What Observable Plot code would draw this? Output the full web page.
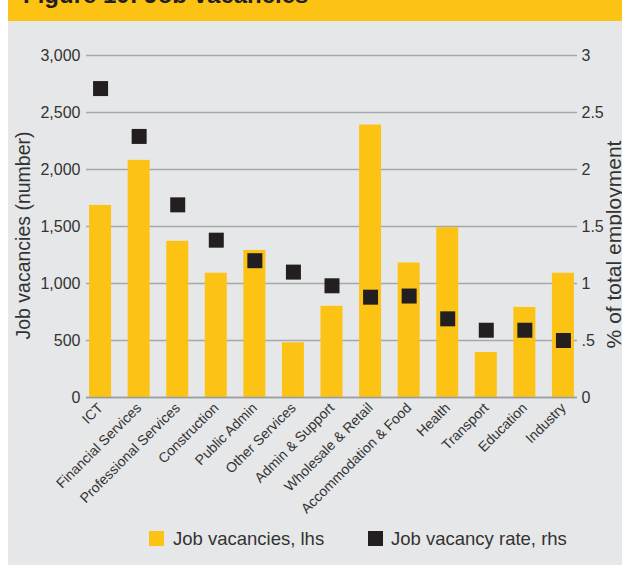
<!DOCTYPE html>
<html>
<head>
<meta charset="utf-8">
<script src="https://cdn.jsdelivr.net/npm/d3@7"></script>
<script src="https://cdn.jsdelivr.net/npm/@observablehq/plot@0.6"></script>
<style>
  html, body { margin: 0; padding: 0; background: #ffffff; }
  #wrap { position: relative; width: 622px; height: 565px; overflow: hidden; font-family: "Liberation Sans", Arial, Helvetica, sans-serif; }
  #panel { position: absolute; left: 8px; top: 0; width: 614px; height: 565px; background: #e6e7e8; }
  #titlebar { position: absolute; left: 8px; top: 0; width: 614px; height: 21px; background: #fdc314; overflow: hidden; }
  #title { position: absolute; left: 15px; top: -17px; font-size: 24px; font-weight: bold; color: #231f20; white-space: nowrap; line-height: 24px; }
  #chart { position: absolute; left: 0; top: 0; }
  #chart svg { background: transparent !important; }
  .sw { position: absolute; width: 15px; height: 15px; }
  .lt { position: absolute; font-size: 18.5px; color: #333; white-space: nowrap; line-height: 18px; }
</style>
</head>
<body>
<div id="wrap">
  <div id="panel"></div>
  <div id="titlebar"><div id="title">Figure 10: Job vacancies</div></div>
  <div id="chart"></div>
  <div class="sw" style="left:149px; top:531px; background:#fdc314;"></div>
  <div class="lt" style="left:173px; top:530px;">Job vacancies, lhs</div>
  <div class="sw" style="left:368px; top:531px; background:#231f20;"></div>
  <div class="lt" style="left:391px; top:530px;">Job vacancy rate, rhs</div>
</div>
<script>
const industries = ["ICT", "Financial Services", "Professional Services", "Construction", "Public Admin", "Other Services", "Admin & Support", "Wholesale & Retail", "Accommodation & Food", "Health", "Transport", "Education", "Industry"];
const vacancies = [1685, 2080, 1370, 1090, 1290, 480, 800, 2390, 1180, 1490, 395, 790, 1090];
const vacancyRate = [2.71, 2.29, 1.69, 1.38, 1.20, 1.10, 0.98, 0.88, 0.89, 0.69, 0.59, 0.59, 0.50];
const leftTicks = [0, 500, 1000, 1500, 2000, 2500, 3000];
const rightTicks = [0, 0.5, 1, 1.5, 2, 2.5, 3];
const rightTickLabels = ["0", ".5", "1", "1.5", "2", "2.5", "3"];
const leftTitle = "Job vacancies (number)";
const rightTitle = "% of total employment";

const YELLOW = "#fdc314";
const DARK = "#231f20";
const GRID = "#a5a7aa";
const TEXT = "#333333";

// rate plotted on the left scale: 1 % of total employment == 1000 on the lhs
const rateScale = 1000;
const data = industries.map((name, i) => ({name, vac: vacancies[i], rate: vacancyRate[i]}));

const chart = Plot.plot({
  width: 622,
  height: 520,
  marginLeft: 86,
  marginRight: 45,
  marginTop: 55,
  marginBottom: 123,
  style: {background: "transparent", fontFamily: "'Liberation Sans', Arial, Helvetica, sans-serif", color: TEXT},
  x: {domain: industries, paddingInner: 0.43, paddingOuter: 0.08, round: false, label: null},
  y: {domain: [0, 3000], label: null},
  marks: [
    Plot.gridY(leftTicks, {stroke: GRID, strokeOpacity: 1, strokeWidth: 1.4}),
    Plot.barY(data, {x: "name", y: "vac", fill: YELLOW}),
    Plot.ruleY([0], {stroke: "#9a9c9f", strokeWidth: 1.4}),
    Plot.dot(data, {x: "name", y: d => d.rate * rateScale, symbol: "square", r: Math.sqrt(225 / Math.PI), fill: DARK, stroke: null}),
    Plot.axisY(leftTicks, {anchor: "left", tickSize: 0, tickPadding: 6, fontSize: 16, tickFormat: d3.format(","), label: null, fill: TEXT}),
    Plot.axisY(rightTicks.map(v => v * rateScale), {anchor: "right", tickSize: 0, tickPadding: 4, fontSize: 16, tickFormat: (d, i) => rightTickLabels[i], label: null, fill: TEXT}),
    Plot.axisX({tickRotate: -45, tickSize: 0, tickPadding: 8, fontSize: 14, label: null, fill: TEXT}),
    Plot.text([leftTitle], {frameAnchor: "left", textAnchor: "middle", dx: -63, dy: 9, rotate: -90, fontSize: 19.5, fill: TEXT}),
    Plot.text([rightTitle], {frameAnchor: "right", textAnchor: "middle", dx: 37, dy: 18, rotate: -90, fontSize: 21, fill: TEXT})
  ]
});
document.getElementById("chart").appendChild(chart);
</script>
</body>
</html>
